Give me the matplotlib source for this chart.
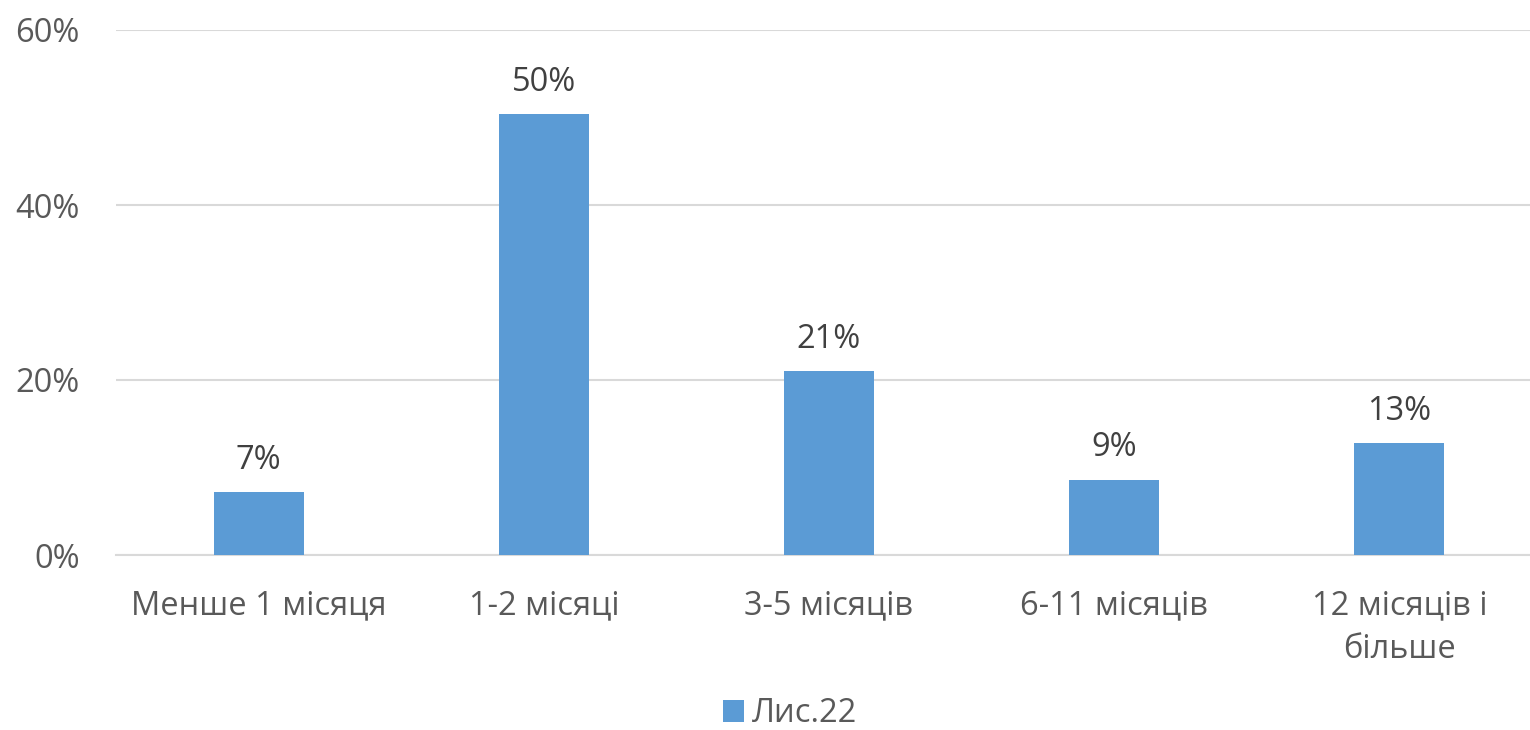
import matplotlib
matplotlib.use('Agg')
import matplotlib.pyplot as plt
from matplotlib.ticker import FuncFormatter
from matplotlib.patches import Patch

plt.rcParams['font.family'] = ['Open Sans', 'DejaVu Sans']

# дані з діаграми
categories = ['Менше 1 місяця', '1-2 місяці', '3-5 місяців', '6-11 місяців', '12 місяців і\nбільше']
values = [0.072, 0.504, 0.210, 0.086, 0.128]
series_name = 'Лис.22'
y_ticks = [0.0, 0.2, 0.4, 0.6]

BAR_COLOR = '#5B9BD5'
TEXT_COLOR = '#595959'
LABEL_COLOR = '#404040'
GRID_COLOR = '#D9D9D9'
FS = 23.5

fig = plt.figure(figsize=(15.3, 7.3), dpi=100)
ax = fig.add_axes([116 / 1530, 1 - 555 / 730, (1542 - 116) / 1530, (555 - 30) / 730])

x = range(len(categories))
bars = ax.bar(x, values, width=0.315, color=BAR_COLOR, zorder=3)

# підписи значень
for b, v in zip(bars, values):
    ax.annotate(f'{v * 100:.0f}%', (b.get_x() + b.get_width() / 2, v),
                xytext=(0, 11), textcoords='offset points',
                ha='center', va='bottom', fontsize=FS, color=LABEL_COLOR)

ax.set_xlim(-0.5, len(categories) - 0.5)
ax.set_ylim(0, 0.6)
ax.set_yticks(y_ticks)
ax.yaxis.set_major_formatter(FuncFormatter(lambda v, p: f'{v * 100:.0f}%'))
ax.set_xticks(list(x))
ax.set_xticklabels(categories, va='top', linespacing=1.4)

ax.tick_params(axis='y', length=0, pad=26, labelsize=FS, labelcolor=TEXT_COLOR)
ax.tick_params(axis='x', length=0, pad=25, labelsize=FS, labelcolor=TEXT_COLOR)

ax.grid(axis='y', color=GRID_COLOR, linewidth=1.5, zorder=0)
for side in ['top', 'right', 'left']:
    ax.spines[side].set_visible(False)
ax.spines['bottom'].set_color(GRID_COLOR)
ax.spines['bottom'].set_linewidth(1.5)

handles = [Patch(facecolor=BAR_COLOR, label=series_name)]
fig.legend(handles=handles, loc='center', bbox_to_anchor=(790 / 1530, 1 - 714 / 730),
           frameon=False, fontsize=FS, handlelength=0.65, handleheight=0.65,
           handletextpad=0.25, borderpad=0.1, labelcolor=TEXT_COLOR)

plt.savefig('out.png', dpi=100)
plt.close()
